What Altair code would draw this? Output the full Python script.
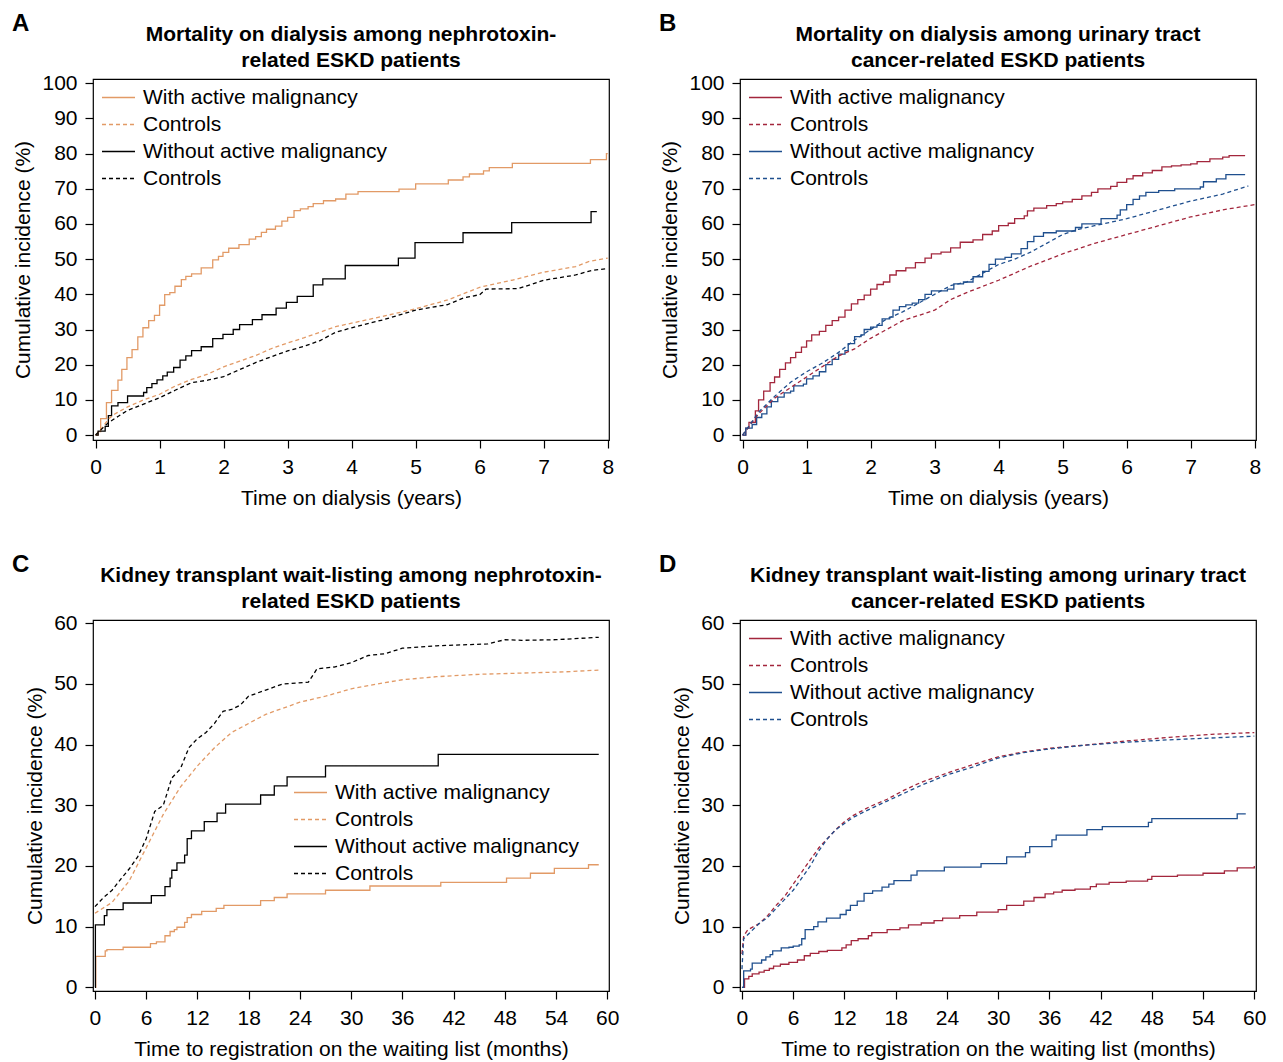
import altair as alt
import pandas as pd

FONT = "Liberation Sans"
ORANGE = "#E29A66"
RED = "#A3263C"
BLUE = "#1F4F8E"
BLACK = "#000000"

SERIES = ["With active malignancy", "Controls_1", "Without active malignancy", "Controls_2"]

# ---------------- Panel A (years, %) ----------------
A_with_t = [0, 0.04, 0.08, 0.17, 0.25, 0.35, 0.41, 0.49, 0.57, 0.66, 0.74, 0.83, 0.92, 1.0, 1.08, 1.16,
            1.24, 1.34, 1.41, 1.5, 1.65, 1.83, 1.92, 1.99, 2.08, 2.24, 2.4, 2.5, 2.59, 2.67, 2.81, 2.91,
            3.0, 3.1, 3.2, 3.32, 3.4, 3.56, 3.75, 3.91, 4.1, 4.74, 5.0, 5.51, 5.74, 5.84, 6.06, 6.15,
            6.51, 7.73, 7.98, 8.0]
A_with_y = [0, 1, 4.7, 9.2, 12.7, 15.6, 18.7, 22, 24.3, 27.9, 30.5, 32.5, 34, 36.9, 39.9, 40.5,
            42.3, 44.2, 45.1, 45.8, 47.5, 49.8, 50.8, 51.9, 53.1, 54.1, 55.7, 56.4, 57.6, 58.5, 59.4, 60.8,
            61.9, 63.8, 64.3, 64.9, 65.8, 66.6, 67.1, 68.5, 69.2, 69.9, 71.4, 72.5, 73.4, 74.2, 75.1, 76,
            77.2, 78.3, 80, 80]
A_wo_t = [0, 0.04, 0.15, 0.2, 0.25, 0.35, 0.5, 0.75, 0.8, 0.88, 0.96, 1.05, 1.12, 1.22, 1.32, 1.41,
          1.5, 1.65, 1.83, 1.99, 2.15, 2.25, 2.45, 2.6, 2.82, 2.98, 3.15, 3.4, 3.55, 3.9, 4.73, 4.99,
          5.74, 6.5, 7.74, 7.83]
A_wo_y = [0, 1.1, 2.5, 5.5, 8.3, 9.2, 11.1, 12.1, 13.5, 14.6, 15.7, 16.8, 17.9, 19.2, 21.3, 22.5,
          24, 25.1, 27.4, 28.6, 30, 31.4, 32.8, 34.2, 36.1, 37.7, 39.4, 42.7, 44.4, 48.2, 50.3, 54.7,
          57.5, 60.4, 63.5, 63.5]
A_c1_t = [0, 0.1, 0.2, 0.3, 0.5, 0.75, 1.0, 1.25, 1.5, 1.75, 2.0, 2.25, 2.5, 2.75, 3.0, 3.25, 3.5,
          3.75, 4.0, 4.5, 5.0, 5.5, 6.0, 6.5, 7.0, 7.5, 7.7, 8.0]
A_c1_y = [0, 2, 4.5, 6, 8, 10, 11.6, 14, 15.8, 17.3, 19.4, 21, 22.6, 24.6, 26.2, 27.6, 29.2,
          30.8, 31.8, 33.8, 35.9, 38.4, 42, 44, 46.3, 47.9, 49.3, 50.3]
A_c2_t = [0, 0.1, 0.2, 0.35, 0.5, 0.75, 1.0, 1.25, 1.5, 1.75, 2.0, 2.25, 2.5, 2.75, 3.0, 3.25, 3.5,
          3.75, 4.0, 4.5, 5.0, 5.5, 5.75, 6.0, 6.1, 6.5, 6.6, 7.0, 7.5, 7.75, 8.0]
A_c2_y = [0, 1.8, 3.5, 5.3, 7, 8.8, 10.6, 12.8, 14.9, 15.6, 16.6, 18.6, 20.6, 22.3, 23.9, 25.2, 26.8,
          29.2, 30.5, 32.8, 35.5, 37.1, 39, 39.9, 41.5, 41.6, 41.6, 44, 45.5, 46.8, 47.3]

# ---------------- Panel B (years, %) ----------------
B_with_t = [0, 0.05, 0.1, 0.2, 0.25, 0.33, 0.43, 0.5, 0.58, 0.67, 0.75, 0.83, 0.92, 1.0, 1.08, 1.2,
            1.3, 1.4, 1.5, 1.6, 1.7, 1.8, 1.9, 2.0, 2.1, 2.2, 2.3, 2.4, 2.55, 2.7, 2.85, 2.95, 3.1,
            3.25, 3.4, 3.6, 3.75, 3.9, 4.0, 4.15, 4.25, 4.4, 4.45, 4.55, 4.75, 4.9, 5.0, 5.15, 5.3,
            5.45, 5.55, 5.75, 5.85, 6.0, 6.1, 6.25, 6.4, 6.55, 6.7, 6.85, 7.0, 7.1, 7.3, 7.5, 7.6, 7.85]
B_with_y = [0, 2, 3.6, 6.9, 10, 12.5, 14.9, 16.5, 18.7, 20.5, 22, 23.5, 25, 26.8, 28.5, 29.5,
            31.2, 32.5, 33.5, 35.5, 37.3, 38.5, 39.8, 41.5, 42.8, 43.5, 45.5, 46.7, 47.5, 49, 50.3, 51.5, 52,
            53.2, 54.8, 55.5, 57, 58, 59.5, 60.2, 61.5, 62.3, 63.7, 64.5, 65.2, 65.8, 66.3, 67, 68,
            69, 70, 70.7, 71.8, 72.8, 73.7, 74.5, 75.2, 76.2, 76.5, 76.8, 77.1, 77.7, 78.5, 79, 79.4, 79.4]
B_wo_t = [0, 0.05, 0.15, 0.22, 0.3, 0.38, 0.45, 0.55, 0.65, 0.75, 0.8, 0.95, 1.0, 1.1, 1.2, 1.3,
          1.4, 1.5, 1.6, 1.65, 1.75, 1.85, 1.9, 2.0, 2.1, 2.18, 2.3, 2.35, 2.45, 2.55, 2.65, 2.75, 2.85,
          2.95, 3.2, 3.3, 3.45, 3.6, 3.75, 3.85, 3.95, 4.1, 4.2, 4.35, 4.45, 4.55, 4.7, 4.9, 5.2, 5.3,
          5.6, 5.85, 5.9, 6.0, 6.1, 6.2, 6.3, 6.5, 6.75, 7.15, 7.2, 7.4, 7.55, 7.85]
B_wo_y = [0, 2, 3, 5, 6, 8, 9.5, 10.8, 12, 12.5, 14, 14.5, 16, 16.8, 18, 20,
          21.5, 23, 24, 26, 28, 28.5, 30, 30.7, 31.2, 33, 33.5, 35.5, 36.5, 37, 37.5, 38.5, 40,
          41, 41.5, 43, 43.5, 45, 46.5, 48.5, 50, 50.5, 51.5, 53, 55, 56.5, 57.5, 58, 59, 60,
          61.5, 62.5, 64, 65.5, 67, 68, 69, 69.5, 70, 70.5, 72, 72.8, 74, 74]
B_c1_t = [0, 0.25, 0.5, 0.75, 1.0, 1.25, 1.5, 1.75, 2.0, 2.25, 2.5, 3.0, 3.25, 3.5, 4.0, 4.5, 5.0,
          5.5, 6.0, 6.5, 7.0, 7.5, 8.0]
B_c1_y = [0, 6, 10.5, 13.5, 16.5, 19.5, 22.5, 24.5, 27.5, 30, 32.5, 35.5, 38.5, 40.5, 44, 48, 51.5,
          54.5, 57, 59.5, 62, 64, 65.5]
B_c2_t = [0, 0.25, 0.5, 0.75, 1.0, 1.25, 1.5, 1.75, 2.0, 2.25, 2.5, 2.75, 3.0, 3.25, 3.5, 3.75, 4.0,
          4.25, 4.5, 4.75, 5.0, 5.25, 5.5, 6.0, 6.5, 7.0, 7.5, 7.9]
B_c2_y = [0, 6.5, 11, 15, 18, 20.5, 23.5, 27, 30, 33, 35, 37.5, 40, 42.5, 43.5, 46, 48.5,
          50, 52, 54.5, 57, 58.5, 59.5, 61.5, 64, 66.5, 68.5, 70.8]

# ---------------- Panel C (months, %) ----------------
C_with_t = [0, 0.1, 1.2, 1.4, 3.3, 6.5, 7.2, 8.2, 8.8, 9.3, 9.6, 10.5, 10.8, 11.3, 12.5, 14.2, 15.1,
            19.4, 21, 22.5, 27, 32.2, 40.5, 48.2, 51, 53.8, 57.8, 59]
C_with_y = [0, 5.1, 6.0, 6.2, 6.6, 7.2, 7.5, 8.5, 9.2, 9.5, 9.9, 10.7, 11.5, 12, 12.5, 13, 13.5,
            14.3, 14.8, 15.4, 16, 16.7, 17.3, 18, 18.8, 19.6, 20.2, 20.2]
C_wo_t = [0, 0.05, 1.1, 1.4, 3.3, 6.6, 8.2, 8.8, 9.0, 9.6, 10.5, 10.8, 11.3, 12.8, 14.3, 15.3, 19.4,
          21, 22.5, 27, 40.2, 59]
C_wo_y = [0, 10.3, 11.8, 12.8, 13.9, 15.1, 16.6, 18, 19.3, 20.5, 21.8, 24.5, 25.8, 27.3, 28.7, 30.2, 31.7,
          33.2, 34.7, 36.5, 38.4, 38.4]
C_c1_t = [0, 2, 4, 6, 8, 10, 12, 14, 16, 18, 20, 22, 24, 27, 30, 33, 36, 40, 45, 50, 55, 59]
C_c1_y = [12.2, 14, 17.5, 23, 28.5, 33, 36.5, 39.5, 42, 43.5, 45, 46, 47, 48, 49.2, 50, 50.7, 51.2,
          51.6, 51.8, 52, 52.3]
C_c2_t = [0, 1, 2, 3, 4, 5, 6, 7, 8, 9, 10, 11, 12, 13, 14, 15, 16, 17, 18, 20, 22, 25, 26, 28, 30,
          32, 34, 36, 40, 44, 46, 48, 50, 54, 59]
C_c2_y = [13.3, 14.8, 16, 17.8, 19.5, 21.5, 24.5, 29, 30, 34.5, 36, 39.5, 41, 42, 43.5, 45.5, 45.8,
          46.5, 48, 49, 50, 50.3, 52.5, 52.8, 53.5, 54.7, 55, 55.9, 56.3, 56.5, 56.6, 57.3, 57.2, 57.3, 57.7]

# ---------------- Panel D (months, %) ----------------
D_with_t = [0, 0.3, 0.8, 1.2, 2, 2.6, 3.2, 3.7, 4.5, 5.5, 6.5, 7.3, 8, 9, 10, 11.7, 12.2, 12.8, 13.6,
            14.8, 15.2, 17, 18.5, 19.5, 21, 22.5, 23.5, 25.5, 27.5, 30, 31, 33, 34.2, 35.5, 36.5, 37.5,
            39, 40.8, 41.5, 43, 45, 47.5, 48, 51, 54, 56.5, 58, 60]
D_with_y = [0, 1.4, 1.8, 2.2, 2.5, 2.8, 3.1, 3.5, 3.8, 4.1, 4.5, 5.2, 5.6, 5.9, 6.1, 6.5, 7, 7.7, 8,
            8.5, 9, 9.5, 9.8, 10.3, 10.6, 11, 11.4, 11.8, 12.4, 12.8, 13.5, 14.2, 14.8, 15.4, 15.7, 16,
            16.2, 16.6, 17, 17.3, 17.5, 17.8, 18.3, 18.5, 18.8, 19.2, 19.7, 20]
D_wo_t = [0, 0.2, 1, 1.2, 2.3, 2.8, 3.3, 3.6, 4.6, 5.5, 6.0, 6.7, 7.0, 7.4, 8.4, 8.9, 9.9, 11.5, 12.2,
          12.7, 13.5, 14.3, 15.3, 16.4, 17.2, 17.8, 19.8, 20.5, 23.7, 28, 31, 33.2, 33.7, 36.3, 36.8,
          40.4, 42.2, 47.6, 48, 58, 59]
D_wo_y = [0, 2.7, 3, 4, 4.5, 5, 5.4, 6, 6.5, 6.6, 6.8, 7, 8, 9.5, 10, 10.8, 11.4, 12, 12.7,
          13.5, 14.2, 15.5, 15.9, 16.5, 17, 17.6, 18.5, 19.2, 19.8, 20.4, 21.5, 22.2, 23.2, 24.3, 25.1,
          26, 26.5, 27.2, 27.8, 28.6, 28.6]
D_c1_t = [0, 0.2, 0.7, 2, 3, 4, 5, 6, 7, 8, 9, 10, 11, 12, 13, 15, 17, 19, 21, 24, 27, 30, 33, 36,
          40, 45, 50, 55, 60]
D_c1_y = [5.5, 8.5, 9.5, 10.5, 11.8, 13.5, 15, 17, 19, 21, 23, 24.5, 26, 27.3, 28.3, 29.8, 31, 32.5,
          33.8, 35.3, 36.7, 38, 38.8, 39.4, 39.9, 40.6, 41.2, 41.7, 42]
D_c2_t = [0, 0.2, 2, 3, 4, 5, 6, 7, 8, 9, 10, 11, 12, 13, 15, 17, 19, 21, 24, 27, 30, 33, 36, 40,
          45, 50, 55, 60]
D_c2_y = [3, 8, 10.5, 11.5, 13, 14.5, 16, 18, 20, 22.5, 24.5, 26, 27, 28, 29.4, 30.7, 32, 33.3, 35,
          36.3, 37.8, 38.7, 39.3, 39.9, 40.4, 40.8, 41.1, 41.4]

TITLES = {
    "A": "Mortality on dialysis among nephrotoxin-\nrelated ESKD patients",
    "B": "Mortality on dialysis among urinary tract\ncancer-related ESKD patients",
    "C": "Kidney transplant wait-listing among nephrotoxin-\nrelated ESKD patients",
    "D": "Kidney transplant wait-listing among urinary tract\ncancer-related ESKD patients",
}


def frame(t, y, name):
    return pd.DataFrame({"t": t, "y": y, "series": name})


def panel(letter, solid, dashed, colors, xdom, xvals, xtitle, ydom, yvals,
          w, h, legx, legy):
    color_scale = alt.Scale(domain=SERIES, range=[colors[0], colors[0], colors[1], colors[1]])
    dash_scale = alt.Scale(domain=SERIES, range=[[1, 0], [4, 3], [1, 0], [4, 3]])
    legend = alt.Legend(
        title=None, orient="none", legendX=legx, legendY=legy, padding=0,
        symbolType="stroke", symbolSize=1089, symbolStrokeWidth=1.3,
        labelFont=FONT, labelFontSize=21, labelColor="#000", labelOffset=7,
        labelLimit=400, rowPadding=0, clipHeight=27,
        labelExpr="indexof(datum.label, 'Controls') >= 0 ? 'Controls' : datum.label",
    )
    x = alt.X("t:Q", scale=alt.Scale(domain=xdom, nice=False, zero=False),
              axis=alt.Axis(values=xvals, title=xtitle, format="d"))
    y = alt.Y("y:Q", scale=alt.Scale(domain=ydom, nice=False, zero=False),
              axis=alt.Axis(values=yvals, title="Cumulative incidence (%)", format="d"))
    enc = dict(
        x=x, y=y,
        color=alt.Color("series:N", scale=color_scale, legend=legend),
        strokeDash=alt.StrokeDash("series:N", scale=dash_scale, legend=legend),
    )
    l1 = alt.Chart(solid).mark_line(interpolate="step-after", strokeWidth=1.3, clip=True).encode(**enc)
    l2 = alt.Chart(dashed).mark_line(strokeWidth=1.3, clip=True).encode(**enc)
    lab = alt.Chart(pd.DataFrame({"letter": [letter]})).mark_text(
        font=FONT, fontSize=24, fontWeight="bold", align="left", baseline="alphabetic", color="#000"
    ).encode(text="letter:N", x=alt.value(-81), y=alt.value(-48))
    ttl = alt.Chart(pd.DataFrame({"title": [TITLES[letter]]})).mark_text(
        font=FONT, fontSize=21, fontWeight="bold", align="center", baseline="middle",
        lineBreak="\n", lineHeight=26, color="#000"
    ).encode(text="title:N", x=alt.value(w / 2), y=alt.value(-44))
    return alt.layer(l1, l2, lab, ttl).properties(width=w, height=h)


pA = panel("A",
           pd.concat([frame(A_with_t, A_with_y, SERIES[0]), frame(A_wo_t, A_wo_y, SERIES[2])]),
           pd.concat([frame(A_c1_t, A_c1_y, SERIES[1]), frame(A_c2_t, A_c2_y, SERIES[3])]),
           [ORANGE, BLACK], [-0.04, 8.02], list(range(0, 9)), "Time on dialysis (years)",
           [-1.4, 101.2], list(range(0, 101, 10)), 516, 361, 8, 5)
pB = panel("B",
           pd.concat([frame(B_with_t, B_with_y, SERIES[0]), frame(B_wo_t, B_wo_y, SERIES[2])]),
           pd.concat([frame(B_c1_t, B_c1_y, SERIES[1]), frame(B_c2_t, B_c2_y, SERIES[3])]),
           [RED, BLUE], [-0.04, 8.02], list(range(0, 9)), "Time on dialysis (years)",
           [-1.4, 101.2], list(range(0, 101, 10)), 516, 361, 8, 5)
pC = panel("C",
           pd.concat([frame(C_with_t, C_with_y, SERIES[0]), frame(C_wo_t, C_wo_y, SERIES[2])]),
           pd.concat([frame(C_c1_t, C_c1_y, SERIES[1]), frame(C_c2_t, C_c2_y, SERIES[3])]),
           [ORANGE, BLACK], [-0.23, 60.2], list(range(0, 61, 6)),
           "Time to registration on the waiting list (months)",
           [-0.61, 60.55], list(range(0, 61, 10)), 516, 371, 200, 159)
pD = panel("D",
           pd.concat([frame(D_with_t, D_with_y, SERIES[0]), frame(D_wo_t, D_wo_y, SERIES[2])]),
           pd.concat([frame(D_c1_t, D_c1_y, SERIES[1]), frame(D_c2_t, D_c2_y, SERIES[3])]),
           [RED, BLUE], [-0.23, 60.2], list(range(0, 61, 6)),
           "Time to registration on the waiting list (months)",
           [-0.61, 60.55], list(range(0, 61, 10)), 516, 371, 8, 5)

chart = alt.concat(
    pA, pB, pC, pD, columns=2, spacing={"row": 180, "column": 131}, bounds="flush"
).resolve_scale(
    color="independent", strokeDash="independent", x="independent", y="independent"
).configure(
    font=FONT, padding={"left": 3, "top": 3, "right": 5, "bottom": 5}, background="white"
).configure_view(
    stroke="#000", strokeWidth=1.2
).configure_axis(
    domain=False, grid=False, ticks=True, tickSize=8, tickColor="#000", tickWidth=1.2,
    labelFont=FONT, labelFontSize=21, labelColor="#000", labelPadding=8,
    titleFont=FONT, titleFontSize=21, titleFontWeight="normal", titleColor="#000", titlePadding=8,
    labelAngle=0,
).configure_axisX(labelFlush=False, titlePadding=10)

chart.save("out.html", embed_options={"renderer": "svg", "actions": False})
